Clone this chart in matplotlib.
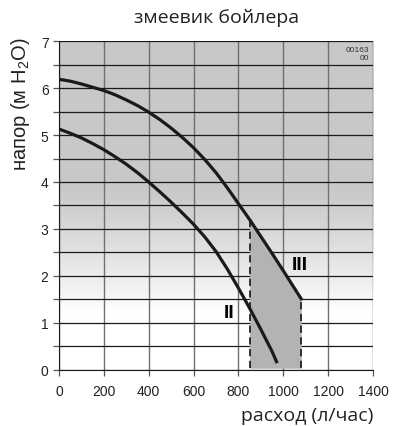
import numpy as np
import matplotlib.pyplot as plt

plt.rcParams['mathtext.fontset'] = 'custom'
plt.rcParams['mathtext.rm'] = 'Liberation Sans'
plt.rcParams['mathtext.it'] = 'Liberation Sans:italic'

# curve III (upper)
flow_iii = [0, 50, 100, 150, 200, 250, 300, 350, 400, 450, 500, 550, 600, 650,
            700, 750, 800, 850, 900, 950, 1000, 1040, 1080]
head_iii = [6.19, 6.15, 6.09, 6.02, 5.95, 5.86, 5.75, 5.63, 5.49, 5.33, 5.15, 4.95,
            4.73, 4.48, 4.20, 3.88, 3.54, 3.20, 2.84, 2.48, 2.11, 1.81, 1.51]

# curve II (lower)
flow_ii = [0, 50, 100, 150, 200, 250, 300, 350, 400, 450, 500, 550, 600, 650,
           700, 750, 800, 850, 900, 950, 970]
head_ii = [5.13, 5.04, 4.94, 4.82, 4.69, 4.54, 4.38, 4.20, 4.00, 3.79, 3.57, 3.34,
           3.10, 2.83, 2.52, 2.15, 1.74, 1.31, 0.86, 0.39, 0.17]

# working zone (flow limits)
zone_x = [850, 1080]

title = "змеевик бойлера"
xlabel = "расход (л/час)"
ylabel = "напор (м H$_2$O)"
xticks = [0, 200, 400, 600, 800, 1000, 1200, 1400]
yticks = [0, 1, 2, 3, 4, 5, 6, 7]

fig = plt.figure(figsize=(3.93, 4.27), dpi=100)
ax = fig.add_axes([0.150, 0.132, 0.799, 0.769])

# background gradient, grey on top fading to white near the bottom
yy = np.linspace(0, 7, 300)
t = np.clip((3.9 - yy) / 2.7, 0, 1) ** 1.2
base = np.array([0.784, 0.788, 0.796])
cols = base[None, :] + (1 - base[None, :]) * t[:, None]
ax.imshow(cols[:, None, :], extent=[0, 1400, 0, 7], origin='lower',
          aspect='auto', zorder=0, interpolation='bilinear')

# grid
for x in xticks:
    ax.axvline(x, color='#707070', lw=1.0, zorder=1)
for y in np.arange(0, 7.01, 0.5):
    ax.axhline(y, color='#1a1a1a', lw=0.9, zorder=1)

# shaded working area under curve III
fx = np.array(flow_iii)
fy = np.array(head_iii)
m = (fx >= zone_x[0]) & (fx <= zone_x[1])
ax.fill_between(fx[m], 0.03, fy[m], color='#b2b3b5', zorder=2, lw=0)
ax.plot([zone_x[0], zone_x[0]], [0.03, head_iii[flow_iii.index(zone_x[0])]],
        color='#222222', lw=1.3, ls=(0, (4, 2.5)), zorder=3)
ax.plot([zone_x[1], zone_x[1]], [0.03, head_iii[-1]],
        color='#222222', lw=1.3, ls=(0, (4, 2.5)), zorder=3)

ax.plot(flow_iii, head_iii, color='#1a1a1a', lw=2.3, zorder=4,
        solid_joinstyle='round')
ax.plot(flow_ii, head_ii, color='#1a1a1a', lw=2.3, zorder=4,
        solid_joinstyle='round')

ax.text(1072, 2.25, "III", fontsize=14, fontweight='bold', family='Liberation Sans',
        ha='center', va='center', zorder=5)
ax.text(760, 1.22, "II", fontsize=14, fontweight='bold', family='Liberation Sans',
        ha='center', va='center', zorder=5)
ax.text(1385, 6.9, "00163\n00", fontsize=6, ha='right', va='top',
        family='Liberation Sans', color='#333333', linespacing=1.25, zorder=5)

ax.set_xlim(0, 1400)
ax.set_ylim(0, 7)
ax.set_xticks(xticks)
ax.set_yticks(yticks)
ax.set_yticks(np.arange(0.5, 7, 1.0), minor=True)
ax.tick_params(which='both', direction='out', length=4, width=0.9,
               color='#555555', labelsize=10)
for lab in ax.get_xticklabels() + ax.get_yticklabels():
    lab.set_family('Liberation Sans')
    lab.set_color('#222222')
ax.tick_params(axis='x', pad=6)

for s in ['top', 'right']:
    ax.spines[s].set_visible(False)
ax.spines['left'].set_color('#1a1a1a')
ax.spines['bottom'].set_color('#1a1a1a')

fig.text(0.051, 0.911, ylabel, fontsize=14.5, family='Liberation Sans', color='#222222',
         rotation=90, ha='center', va='top')
fig.text(0.949, 0.026, xlabel, fontsize=14, family='Open Sans', color='#222222',
         ha='right', va='center')
fig.text(0.55, 0.958, title, fontsize=14, family='Open Sans', color='#222222',
         ha='center', va='center')

fig.savefig('out.png', dpi=100)
